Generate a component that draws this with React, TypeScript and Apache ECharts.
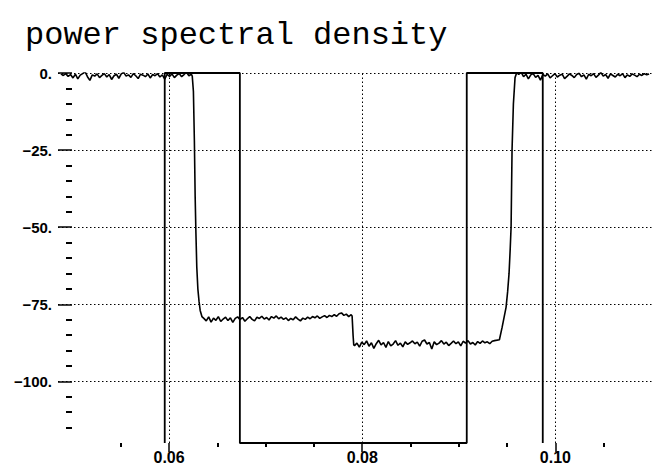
import React, { useEffect, useRef } from "react";
import * as echarts from "echarts";

const titleText = "power spectral density";

// axis ticks / labels
const xTickMajor = [0.06, 0.08, 0.1];
const xTickMinor = [0.055, 0.065, 0.07, 0.075, 0.085, 0.09, 0.095, 0.105];
const yTickMajor = [0, -25, -50, -75, -100];
const yTickMinor = [-5, -10, -15, -20, -30, -35, -40, -45, -55, -60, -65, -70, -80, -85, -90, -95, -105, -110, -115];
const gridX = [0.06, 0.08, 0.1];
const gridY = [0, -25, -50, -75, -100];

// spectral mask outline
const maskFreq = [0.05955, 0.05955, 0.06733, 0.06733, 0.09082, 0.09082, 0.09869, 0.09869];
const maskLevel = [-120, 0, 0, -120, -120, 0, 0, -120];

// PSD estimate, uniformly sampled stretches (dB)
const sampleStep = 0.00025;
const passLeftStart = 0.0488;
const passLeft = [
  -0.3, -0.8, -0.2, -1.1, -0.5, -1.6, -0.4, -1.9, -0.7, -0.2, 0.4, -1.2, -2.4, -0.6, -1.0, -0.3,
  -1.5, -0.8, -0.2, -1.3, -0.5, -2.1, -0.9, -0.4, -1.7, -0.3, 0.2, -1.0, -0.6, -1.4, -0.2, -0.9,
  -1.8, -0.4, -0.7, -1.2, -0.3, -1.6, -0.5, -0.9, -0.2, -1.3, -0.6, -2.0, -0.4, -1.1, -0.3, -1.5,
  -0.7, -0.2, -1.2, -0.5, 0.3, -0.9, -0.4,
];
const fallFreq = [0.0624, 0.06252, 0.06262, 0.0627, 0.06278, 0.06287, 0.06298, 0.0631, 0.06322, 0.0634];
const fallLevel = [-1.0, -6, -22, -40, -52, -63, -70, -74, -77, -79];
const stop1Start = 0.0636;
const stop1 = [
  -79.6, -80.4, -79.1, -80.8, -79.5, -80.2, -79.0, -80.6, -79.8, -79.2, -80.3, -79.4, -80.9, -79.6,
  -79.1, -80.0, -79.3, -80.5, -79.7, -79.0, -79.9, -80.4, -79.2, -79.6, -78.9, -79.8, -79.3, -80.1,
  -79.0, -79.5, -78.8, -79.7, -79.2, -79.9, -79.4, -80.3, -79.6, -80.0, -79.1, -79.8, -80.4, -79.5,
  -79.9, -79.2, -79.7, -79.0, -79.4, -78.8, -79.6, -79.1, -78.7, -79.3, -78.6, -79.0, -78.4, -78.9,
  -78.1, -77.8, -78.6, -78.2, -79.0, -78.4,
];
const stepFreq = [0.07895, 0.07905, 0.07912];
const stepLevel = [-78.8, -85, -88.2];
const stop2Start = 0.0792;
const stop2 = [
  -88.4, -87.6, -88.9, -87.3, -88.1, -86.9, -88.6, -87.5, -89.3, -87.8, -86.7, -88.2, -87.4, -89.0,
  -87.1, -88.5, -87.9, -86.8, -88.3, -87.6, -88.8, -87.2, -88.0, -87.5, -86.9, -87.8, -87.3, -88.6,
  -87.0, -86.6, -87.9, -87.4, -89.5, -87.2, -88.1, -87.6, -86.8, -87.9, -87.3, -88.4, -87.7, -86.9,
  -87.8, -87.2, -88.5, -87.0, -87.6, -86.8, -87.9, -87.4, -88.2, -87.1, -87.7, -86.9, -87.5, -87.2,
  -87.8, -87.0, -86.8,
];
const riseFreq = [0.0942, 0.09448, 0.0947, 0.09489, 0.09505, 0.0952, 0.09532, 0.09541, 0.09551, 0.09565, 0.09582, 0.096];
const riseLevel = [-86.5, -82.5, -79, -76, -71, -65, -57, -50, -25, -10, -1.5, 0.2];
const passRightStart = 0.0962;
const passRight = [
  -0.5, 0.3, -1.2, -0.4, -1.9, -0.6, -0.2, -1.4, -0.8, -2.3, -0.5, -1.0, -0.3, -1.6, -0.9, -0.2,
  -1.3, -0.7, -0.4, -1.8, -1.1, -0.3, -0.8, -1.5, -0.5, -0.1, -1.2, -0.6, -2.0, -0.4, -0.9, -0.2,
  -1.4, -0.7, 0.2, -1.0, -0.5, -1.7, -0.3, -0.8, -1.3, -0.4, -0.9, -0.2, -1.5, -0.6, -1.1, -0.3,
  -0.7, -1.2, -0.4, -0.8, -0.2, -0.6, -0.3,
];

function uniform(start: number, vals: number[]) {
  return vals.map((v, i) => [start + i * sampleStep, v]);
}
function pairs(fs: number[], vs: number[]) {
  return fs.map((f, i) => [f, vs[i]]);
}

const psdData = [
  ...uniform(passLeftStart, passLeft),
  ...pairs(fallFreq, fallLevel),
  ...uniform(stop1Start, stop1),
  ...pairs(stepFreq, stepLevel),
  ...uniform(stop2Start, stop2),
  ...pairs(riseFreq, riseLevel),
  ...uniform(passRightStart, passRight),
];
const maskData = pairs(maskFreq, maskLevel);

const yLabel = (v: number) => (v === 0 ? "0." : "\u2212" + Math.abs(v) + ".");

export default function App() {
  const ref = useRef<HTMLDivElement>(null);
  useEffect(() => {
    if (!ref.current) return;
    const chart = echarts.init(ref.current, undefined, { renderer: "svg" });
    const gridBox = { left: 58, right: 1, top: 73, bottom: 25 };
    const xBase = {
      type: "value" as const,
      min: 0.0485,
      max: 0.11,
      position: "bottom" as const,
      axisLine: { show: false, onZero: false },
      splitLine: { show: false },
    };
    const yBase = {
      type: "value" as const,
      min: -120,
      max: 0,
      position: "left" as const,
      offset: -14,
      axisLine: { show: false, onZero: false },
      splitLine: { show: false },
    };
    const labelFont = {
      color: "#000",
      fontFamily: "'Liberation Sans', Arial, sans-serif",
      fontWeight: "bold" as const,
    };
    chart.setOption({
      animation: false,
      backgroundColor: "#fff",
      title: {
        text: titleText,
        left: 20,
        top: 14,
        textStyle: {
          fontFamily: "'Courier New', 'Liberation Mono', monospace",
          fontSize: 32,
          fontWeight: "normal",
          color: "#000",
        },
      },
      grid: [gridBox, gridBox],
      xAxis: [
        {
          ...xBase,
          gridIndex: 0,
          axisTick: { show: true, customValues: xTickMajor, length: 9, lineStyle: { color: "#000", width: 1.5 } },
          axisLabel: {
            show: true,
            customValues: xTickMajor,
            formatter: (v: number) => v.toFixed(2),
            margin: 6,
            fontSize: 16,
            ...labelFont,
          },
        },
        {
          ...xBase,
          gridIndex: 1,
          axisTick: { show: true, customValues: xTickMinor, length: 4, lineStyle: { color: "#000", width: 2 } },
          axisLabel: { show: false },
        },
      ],
      yAxis: [
        {
          ...yBase,
          gridIndex: 0,
          axisTick: { show: true, customValues: yTickMajor, length: 14, lineStyle: { color: "#000", width: 1.5 } },
          axisLabel: {
            show: true,
            customValues: yTickMajor,
            formatter: yLabel,
            margin: 20,
            fontSize: 15,
            ...labelFont,
          },
        },
        {
          ...yBase,
          gridIndex: 1,
          axisTick: { show: true, customValues: yTickMinor, length: 6, lineStyle: { color: "#000", width: 2 } },
          axisLabel: { show: false },
        },
      ],
      series: [
        {
          type: "line",
          xAxisIndex: 0,
          yAxisIndex: 0,
          data: maskData,
          showSymbol: false,
          symbol: "none",
          lineStyle: { color: "#000", width: 1.8 },
          markLine: {
            silent: true,
            symbol: ["none", "none"],
            label: { show: false },
            lineStyle: { color: "#000", width: 1, type: [1.5, 2.5] },
            data: [
              ...gridY.map((v) => ({ yAxis: v })),
              ...gridX.map((v) => ({ xAxis: v })),
            ],
          },
          z: 2,
        },
        {
          type: "line",
          xAxisIndex: 0,
          yAxisIndex: 0,
          data: psdData,
          showSymbol: false,
          symbol: "none",
          lineStyle: { color: "#000", width: 1.6 },
          z: 3,
        },
      ],
    });
    return () => chart.dispose();
  }, []);
  return (
    <div
      ref={ref}
      style={{ position: "fixed", left: 0, top: 0, width: 653, height: 468, background: "#fff" }}
    />
  );
}
